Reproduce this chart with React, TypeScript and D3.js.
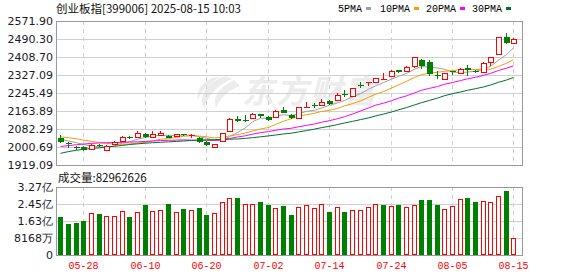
import React from 'react';
import * as d3 from 'd3';

const dates = [
  '05-23','05-26','05-27','05-28','05-29','05-30',
  '06-03','06-04','06-05','06-06','06-09','06-10','06-11','06-12','06-13','06-16','06-17','06-18','06-19','06-20',
  '06-23','06-24','06-25','06-26','06-27','06-30',
  '07-01','07-02','07-03','07-04','07-07','07-08','07-09','07-10','07-11','07-14','07-15','07-16','07-17','07-18',
  '07-21','07-22','07-23','07-24','07-25','07-28','07-29','07-30','07-31',
  '08-01','08-04','08-05','08-06','08-07','08-08','08-11','08-12','08-13','08-14','08-15',
];
const opens = [2040,2017,2001,2000,1990,2010,1987,2014,2029,2047,2047,2058,2045,2053,2051,2050,2058,2050,2040,2025,
  2001,2029,2075,2127,2124,2133,2149,2138,2135,2168,2145,2131,2178,2190,2191,2209,2212,2240,2232,2282,
  2289,2295,2306,2322,2348,2347,2368,2395,2386,2325,2310,2345,2338,2357,2346,2339,2385,2421,2501,2472];
const highs = [2055,2024,2003,2003,2013,2014,2010,2028,2050,2052,2072,2064,2075,2075,2056,2060,2060,2060,2046,2030,
  2014,2066,2131,2140,2144,2153,2150,2140,2168,2183,2150,2183,2206,2200,2218,2212,2245,2258,2270,2295,
  2296,2314,2335,2348,2350,2370,2410,2400,2395,2347,2337,2347,2360,2372,2352,2384,2410,2500,2516,2495];
const lows = [2018,1998,1985,1983,1987,2000,1983,2012,2027,2035,2045,2040,2043,2050,2040,2045,2050,2040,2020,2005,
  1996,2025,2072,2115,2115,2130,2131,2120,2133,2153,2128,2128,2177,2177,2187,2192,2210,2226,2230,2267,
  2277,2290,2304,2320,2335,2340,2360,2355,2322,2307,2305,2327,2335,2324,2335,2336,2370,2418,2467,2470];
const closes = [2022,2015,1994,1985,2010,2003,2006,2025,2047,2040,2062,2044,2058,2062,2043,2058,2053,2055,2025,2010,
  2014,2063,2127,2117,2120,2149,2143,2123,2164,2155,2131,2181,2182,2187,2205,2195,2236,2235,2267,2280,
  2295,2312,2310,2345,2342,2363,2407,2370,2332,2322,2335,2342,2356,2348,2340,2380,2407,2498,2473,2491];
// volume in millions of shares
const volumes = [182.7,149,154,163.5,200,197,186,186,210,183,205,240,210,215,245,205,221,215,226,192,
  200,253,273,274,244,244,255,240,226,236,192,229,239,225,244,207,229,207,215,215,
  229,244,240,234,240,229,239,264,264,240,221,234,269,274,255,260,255,282,308,82.962626];

const ma5Lead = [2035,2028,2020,2012];
const ma10Lead = [2047,2043,2038,2032,2026,2021,2017,2014,2013];
const ma20Lead = [2003,2007,2011,2014,2017,2019,2020,2021,2022,2023,2024,2026,2028,2030,2031,2032,2033,2032,2031];
const ma30Lead = [1972,1980,1986,1990,1994,1997,2001,2004,2008,2012,2015,2018,2020,2022,2024,2026,2028,2030,2032,2033,
  2034,2035,2036,2037,2040,2043,2047,2051,2055];

const priceTicks = [2571.90,2490.30,2408.70,2327.09,2245.49,2163.89,2082.29,2000.69,1919.09];
const volTickValues = [326.72,245.04,163.36,81.68,0];
const volTickLabels = ['3.27亿','2.45亿','1.63亿','8168万','0'];
const xTickDates = ['05-28','06-10','06-20','07-02','07-14','07-24','08-05','08-15'];

const title = '创业板指[399006] 2025-08-15 10:03';
const maNames = ['5PMA','10PMA','20PMA','30PMA'];
const maColors = ['#a0a0a0','#f0a000','#ff00ff','#00702e'];

const W = 578, H = 276;
const L = 56, R = 522;
const mainTop = 21, mainBot = 165;
const volTop = 187, volBot = 255;

function movingAvg(n: number, lead: number[]) {
  return closes.map((c, i) => (i < n - 1 ? lead[i] : (d3.mean(closes.slice(i - n + 1, i + 1)) as number)));
}

export default function App() {
  const xb = d3.scaleBand<string>().domain(dates).range([56.5, 517.3]).padding(0);
  const cx = (d: string) => Math.round((xb(d) as number) + xb.bandwidth() / 2);
  const y = d3.scaleLinear().domain([1919.09, 2571.90]).range([mainBot, mainTop]);
  const yv = d3.scaleLinear().domain([0, 326.72]).range([volBot, volTop]);

  const mas = [movingAvg(5, ma5Lead), movingAvg(10, ma10Lead), movingAvg(20, ma20Lead), movingAvg(30, ma30Lead)];
  const line = d3.line<number>().x((_, i) => cx(dates[i]) + 0.5).y((v) => y(v));

  const sans = 'DejaVu Sans, Verdana, sans-serif';
  const cjk = '"Noto Sans CJK SC", "Noto Sans", sans-serif';
  const mono = '"Liberation Mono", "DejaVu Sans Mono", monospace';

  const lastVol = Math.round(volumes[volumes.length - 1] * 1e6);

  return (
    <svg width={W} height={H} style={{ position: 'absolute', left: 0, top: 0, background: '#fff' }}>
      <rect x={0} y={0} width={W} height={H} fill="#fff" />
      {/* watermark */}
      <g fill="#ececec">
        <path d="M226 76 C206 82 198 96 204 108 C208 96 216 86 232 79 Z" />
        <path d="M234 80 C218 88 212 98 216 108 C220 98 228 90 240 86 Z" />
        <path d="M212 78 C200 84 196 92 198 100 C202 90 208 84 220 77 Z" />
        <text x={242} y={103} fontSize={32} fontWeight="bold" fontStyle="italic" letterSpacing={2} fontFamily={cjk}>东方财富</text>
      </g>

      {/* title + legend */}
      <text x={56} y={12.5} fontSize={11.5} fontFamily={cjk} fill="#111">{title}</text>
      {maNames.map((n, k) => {
        const xs = [338, 380, 426, 472][k];
        const tw = n.length * 6;
        return (
          <g key={n}>
            <text x={xs} y={12} fontSize={10} fontFamily={mono} fill="#000">{n}</text>
            <rect x={xs + tw + 4} y={7} width={5} height={3} fill={maColors[k]} />
          </g>
        );
      })}

      {/* main grid */}
      {priceTicks.map((p) => (
        <line key={p} x1={L} x2={R} y1={Math.round(y(p)) + 0.5} y2={Math.round(y(p)) + 0.5} stroke="#d0d0d0" />
      ))}
      {xTickDates.map((d) => (
        <g key={d}>
          <line x1={cx(d) + 0.5} x2={cx(d) + 0.5} y1={mainTop} y2={mainBot} stroke="#cfcfcf" strokeDasharray="4,4" />
          <line x1={cx(d) + 0.5} x2={cx(d) + 0.5} y1={volTop} y2={volBot} stroke="#cfcfcf" strokeDasharray="4,4" />
        </g>
      ))}
      {volTickValues.map((v) => (
        <line key={v} x1={L} x2={R} y1={Math.round(yv(v)) + 0.5} y2={Math.round(yv(v)) + 0.5} stroke="#d0d0d0" />
      ))}

      {/* price labels */}
      {priceTicks.map((p) => (
        <text key={p} x={53} y={y(p)} dy="0.36em" textAnchor="end" fontSize={11} fontFamily={sans} fill="#1a1a2a">
          {p.toFixed(2)}
        </text>
      ))}

      {/* MA lines */}
      {mas.map((m, k) => (
        <path key={k} d={line(m) as string} fill="none" stroke={maColors[k]} strokeWidth={1} />
      ))}

      {/* candles */}
      {dates.map((d, i) => {
        const o = opens[i], c = closes[i], h = highs[i], l = lows[i];
        const up = c >= o;
        const color = up ? '#ff0000' : '#008000';
        const x = cx(d);
        const yTop = Math.round(y(Math.max(o, c)));
        const yBot = Math.round(y(Math.min(o, c)));
        const bh = Math.max(yBot - yTop, 1);
        return (
          <g key={d}>
            <line x1={x + 0.5} x2={x + 0.5} y1={Math.round(y(h))} y2={yTop} stroke={color} />
            <line x1={x + 0.5} x2={x + 0.5} y1={yTop + bh} y2={Math.round(y(l))} stroke={color} />
            {up && bh > 1 ? (
              <rect x={x - 2 + 0.5} y={yTop + 0.5} width={5} height={bh} fill="#fff" stroke={color} />
            ) : (
              <rect x={x - 2} y={yTop} width={6} height={bh} fill={color} />
            )}
          </g>
        );
      })}

      {/* volume */}
      <text x={58} y={182} fontSize={11.5} fontFamily={cjk} fill="#111">{'成交量:' + lastVol}</text>
      {volTickValues.map((v, k) => (
        <text key={v} x={53} y={yv(v)} dy="0.36em" textAnchor="end" fontSize={11} fontFamily={sans} fill="#1a1a2a">
          {volTickLabels[k]}
        </text>
      ))}
      {dates.map((d, i) => {
        const up = i === 0 ? closes[0] >= opens[0] : closes[i] >= closes[i - 1];
        const x = cx(d);
        const top = Math.round(yv(volumes[i]));
        return up ? (
          <rect key={d} x={x - 2 + 0.5} y={top + 0.5} width={4} height={volBot - top - 1} fill="#fff" stroke="#ff0000" />
        ) : (
          <rect key={d} x={x - 2} y={top} width={5} height={volBot - top} fill="#008000" />
        );
      })}

      {/* frames */}
      <rect x={L + 0.5} y={mainTop + 0.5} width={R - L} height={mainBot - mainTop} fill="none" stroke="#999" />
      <rect x={L + 0.5} y={volTop + 0.5} width={R - L} height={volBot - volTop} fill="none" stroke="#999" />

      {/* x labels */}
      {xTickDates.map((d) => (
        <text key={d} x={cx(d) + 0.5} y={269} textAnchor="middle" fontSize={10} fontFamily={mono} fill="#ff0000">
          {d}
        </text>
      ))}
    </svg>
  );
}
